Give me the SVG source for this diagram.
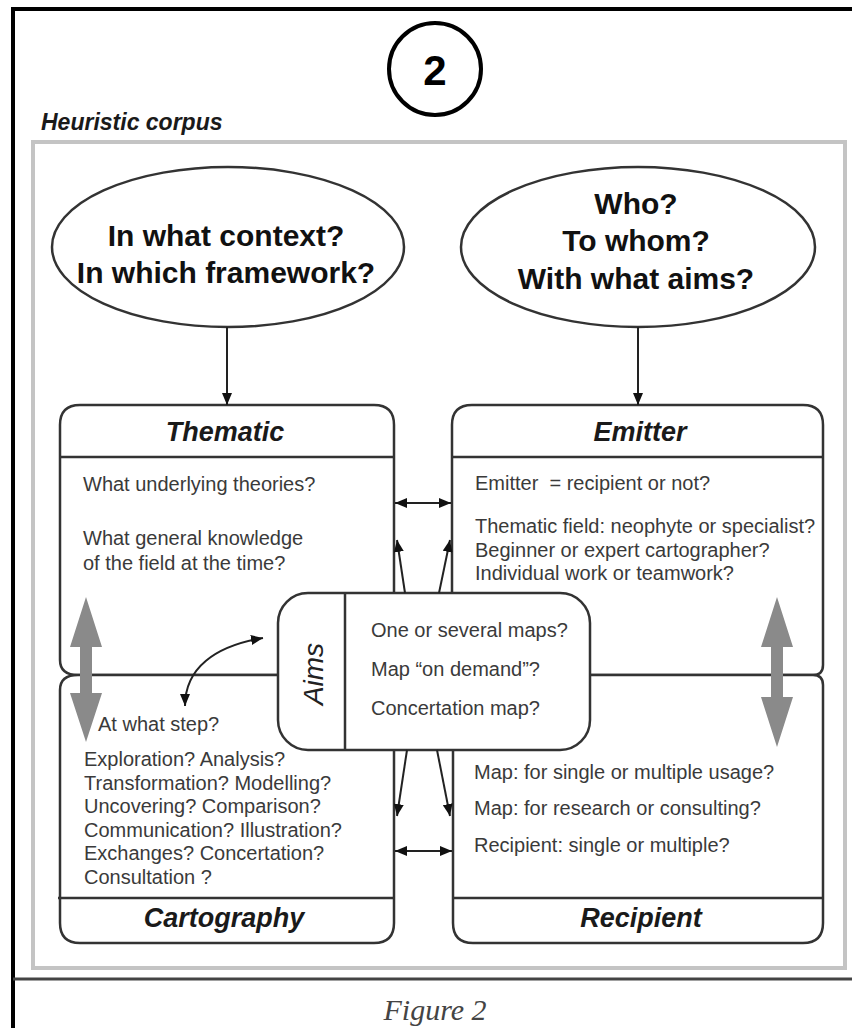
<svg xmlns="http://www.w3.org/2000/svg" width="852" height="1028" viewBox="0 0 852 1028">
<defs>
<style>
.bx{fill:#fff;stroke:#333;stroke-width:2.5}
.ln{fill:none;stroke:#333;stroke-width:2.5}
.con{fill:none;stroke:#222;stroke-width:2}
.ttl{font-family:"Liberation Sans",Arial,sans-serif;font-weight:bold;font-style:italic;font-size:27px;fill:#1a1a1a;text-anchor:middle}
.q{font-family:"Liberation Sans",Arial,sans-serif;font-weight:bold;font-size:30px;fill:#111;text-anchor:middle}
.t{font-family:"Liberation Sans",Arial,sans-serif;font-size:20px;fill:#3a3a3a;white-space:pre}
.ga{fill:#8a8a8a}
</style>
<marker id="ah" viewBox="0 0 12 10" refX="12" refY="5" markerWidth="12" markerHeight="10" markerUnits="userSpaceOnUse" orient="auto-start-reverse">
<path d="M0,0 L12,5 L0,10 z" fill="#111"/>
</marker>
</defs>
<rect width="852" height="1028" fill="#fff"/>
<g id="frame">
<line x1="13" y1="9" x2="13" y2="1028" stroke="#000" stroke-width="4"/>
<line x1="11" y1="9" x2="852" y2="9" stroke="#000" stroke-width="4"/>
<line x1="13" y1="979" x2="852" y2="979" stroke="#444" stroke-width="3"/>
<rect x="33" y="142" width="812" height="826" fill="none" stroke="#c4c4c4" stroke-width="4"/>
</g>
<g id="number">
<circle cx="435" cy="69" r="46" fill="none" stroke="#000" stroke-width="4"/>
<text x="435" y="85" font-family="Liberation Sans,Arial,sans-serif" font-weight="bold" font-size="42" text-anchor="middle" fill="#000">2</text>
</g>
<text id="corpus" x="41" y="130" font-family="Liberation Sans,Arial,sans-serif" font-weight="bold" font-style="italic" font-size="23" fill="#1a1a1a">Heuristic corpus</text>
<g id="context">
<ellipse cx="228" cy="247" rx="176" ry="80" class="bx" stroke-width="2"/>
<text class="q" x="226" y="246">In what context?</text>
<text class="q" x="226" y="283">In which framework?</text>
</g>
<g id="who">
<ellipse cx="638" cy="247" rx="177" ry="80" class="bx" stroke-width="2"/>
<text class="q" x="636" y="214">Who?</text>
<text class="q" x="636" y="251">To whom?</text>
<text class="q" x="636" y="289">With what aims?</text>
</g>
<g id="thematic">
<path class="bx" d="M78,675 Q60,675 60,660 L60,425 Q60,405 80,405 L374,405 Q394,405 394,425 L394,675 Z"/>
<line class="ln" x1="60" y1="457" x2="394" y2="457"/>
<text class="ttl" x="225" y="441">Thematic</text>
<text class="t" x="83" y="491">What underlying theories?</text>
<text class="t" x="83" y="545">What general knowledge</text>
<text class="t" x="83" y="570">of the field at the time?</text>
</g>
<g id="emitter">
<path class="bx" d="M452,675 L452,425 Q452,405 472,405 L803,405 Q823,405 823,425 L823,665 Q823,675 813,675 Z"/>
<line class="ln" x1="452" y1="457" x2="823" y2="457"/>
<text class="ttl" x="640" y="441">Emitter</text>
<text class="t" x="475" y="490" xml:space="preserve">Emitter  = recipient or not?</text>
<text class="t" x="475" y="533">Thematic field: neophyte or specialist?</text>
<text class="t" x="475" y="557">Beginner or expert cartographer?</text>
<text class="t" x="475" y="580">Individual work or teamwork?</text>
</g>
<g id="cartography">
<path class="bx" d="M78,675 L394,675 L394,923 Q394,943 374,943 L80,943 Q60,943 60,923 L60,690 Q60,675 78,675 Z"/>
<line class="ln" x1="58" y1="898" x2="394" y2="898"/>
<text class="ttl" x="224" y="927">Cartography</text>
<text class="t" x="98" y="731">At what step?</text>
<text class="t" x="84" y="766">Exploration? Analysis?</text>
<text class="t" x="84" y="789.5">Transformation? Modelling?</text>
<text class="t" x="84" y="813">Uncovering? Comparison?</text>
<text class="t" x="84" y="836.5">Communication? Illustration?</text>
<text class="t" x="84" y="860">Exchanges? Concertation?</text>
<text class="t" x="84" y="883.5">Consultation ?</text>
</g>
<g id="recipient">
<path class="bx" d="M453,675 L813,675 Q823,675 823,685 L823,923 Q823,943 803,943 L473,943 Q453,943 453,923 Z"/>
<line class="ln" x1="453" y1="898" x2="823" y2="898"/>
<text class="ttl" x="641" y="927">Recipient</text>
<text class="t" x="474" y="779">Map: for single or multiple usage?</text>
<text class="t" x="474" y="815">Map: for research or consulting?</text>
<text class="t" x="474" y="852">Recipient: single or multiple?</text>
</g>
<g id="grayarrows">
<polygon class="ga" points="86,597 102,647 92,647 92,693 102,693 86,742 70,693 80,693 80,647 70,647"/>
<polygon class="ga" points="777,597 793,647 783,647 783,697 793,697 777,747 761,697 771,697 771,647 761,647"/>
</g>
<g id="aims">
<rect class="bx" x="278" y="593" width="312" height="157" rx="30" ry="30"/>
<line class="ln" x1="345" y1="593" x2="345" y2="750"/>
<text transform="translate(323,674) rotate(-90)" font-family="Liberation Sans,Arial,sans-serif" font-style="italic" font-size="28" fill="#222" text-anchor="middle">Aims</text>
<text class="t" x="371" y="637">One or several maps?</text>
<text class="t" x="371" y="676">Map “on demand”?</text>
<text class="t" x="371" y="715">Concertation map?</text>
</g>
<g id="connectors">
<line class="con" x1="227" y1="327" x2="227" y2="405" marker-end="url(#ah)"/>
<line class="con" x1="638" y1="327" x2="638" y2="405" marker-end="url(#ah)"/>
<line class="con" x1="395" y1="503" x2="451" y2="503" marker-start="url(#ah)" marker-end="url(#ah)"/>
<line class="con" x1="395" y1="851" x2="452" y2="851" marker-start="url(#ah)" marker-end="url(#ah)"/>
<line class="con" x1="405" y1="593" x2="397" y2="540" marker-end="url(#ah)"/>
<line class="con" x1="439" y1="593" x2="450" y2="540" marker-end="url(#ah)"/>
<line class="con" x1="407" y1="750" x2="397" y2="816" marker-end="url(#ah)"/>
<line class="con" x1="437" y1="750" x2="450" y2="816" marker-end="url(#ah)"/>
<path class="con" stroke-width="3" d="M185,706 C185,668 215,646 263,638" marker-start="url(#ah)" marker-end="url(#ah)"/>
</g>
<text id="caption" x="435" y="1020" font-family="Liberation Serif,Times New Roman,serif" font-style="italic" font-size="30" fill="#444" text-anchor="middle">Figure 2</text>
</svg>
